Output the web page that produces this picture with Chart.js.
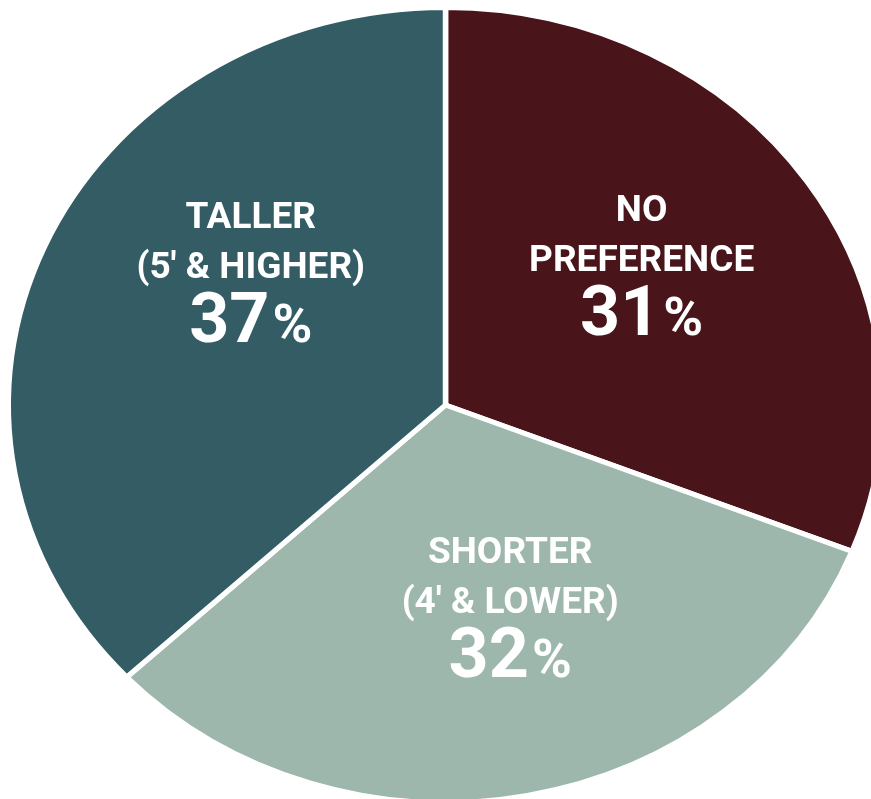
<!DOCTYPE html>
<html lang="en">
<head>
  <meta charset="UTF-8">
  <title>Height preference</title>
  <script src="https://cdn.jsdelivr.net/npm/chart.js"></script>
  <style>
    html, body { margin: 0; padding: 0; background: #fff; }
    #wrap { width: 871px; height: 799px; position: relative; }
  </style>
</head>
<body>
  <div id="wrap"><canvas id="pie"></canvas></div>

  <script>
    // slices run clockwise from 12 o'clock
    const categories = ["No preference", "Shorter (4' & lower)", "Taller (5' & higher)"];
    const labelLines = [["NO", "PREFERENCE"], ["SHORTER", "(4' & LOWER)"], ["TALLER", "(5' & HIGHER)"]];
    const shares = [31, 32, 37];
    const sliceColors = ["#4a141b", "#9eb7ac", "#335c65"];

    // the pie is drawn a little wider than tall
    const stretchX = 1.1;
    // label block offsets from the default spot inside each slice (px)
    const labelNudge = [[-10, -20], [18, -28], [34, -50]];

    const ovalPie = {
      id: "ovalPie",
      beforeDatasetsDraw(chart) {
        const arc = chart.getDatasetMeta(0).data[0];
        const ctx = chart.ctx;
        ctx.save();
        ctx.translate(arc.x, 0);
        ctx.scale(stretchX, 1);
        ctx.translate(-arc.x, 0);
      },
      afterDatasetsDraw(chart) {
        chart.ctx.restore();
      }
    };

    const sliceLabels = {
      id: "sliceLabels",
      afterDraw(chart) {
        const ctx = chart.ctx;
        const values = chart.data.datasets[0].data;
        chart.getDatasetMeta(0).data.forEach((arc, i) => {
          const mid = (arc.startAngle + arc.endAngle) / 2;
          const r = arc.outerRadius * 0.57;
          const cx = arc.x + Math.cos(mid) * r * stretchX + labelNudge[i][0];
          const cy = arc.y + Math.sin(mid) * r + labelNudge[i][1];

          ctx.save();
          ctx.fillStyle = "#ffffff";
          ctx.textAlign = "center";
          ctx.textBaseline = "alphabetic";
          ctx.font = "bold 37px Roboto";
          ctx.fillText(labelLines[i][0], cx, cy - 37);
          ctx.fillText(labelLines[i][1], cx, cy + 13);

          // big number with a smaller percent sign on the same baseline
          const num = String(values[i]);
          ctx.font = "bold 70px Roboto";
          const wNum = ctx.measureText(num).width;
          ctx.font = "bold 54px Roboto";
          const wPct = ctx.measureText("%").width;
          const gap = 3;
          const x0 = cx - (wNum + gap + wPct) / 2;
          const base = cy + 77;
          ctx.textAlign = "left";
          ctx.font = "bold 70px Roboto";
          ctx.fillText(num, x0, base);
          ctx.font = "bold 54px Roboto";
          ctx.fillText("%", x0 + wNum + gap, base);
          ctx.restore();
        });
      }
    };

    new Chart(document.getElementById("pie"), {
      type: "pie",
      data: {
        labels: categories,
        datasets: [{
          data: shares,
          backgroundColor: sliceColors,
          borderColor: "#ffffff",
          borderWidth: 5,
          clip: false
        }]
      },
      options: {
        responsive: true,
        maintainAspectRatio: false,
        animation: false,
        radius: 397.5,
        layout: { padding: { left: 20, right: 0, top: 11, bottom: 0 } },
        plugins: {
          legend: { display: false },
          tooltip: { enabled: false }
        }
      },
      plugins: [ovalPie, sliceLabels]
    });
  </script>
</body>
</html>
